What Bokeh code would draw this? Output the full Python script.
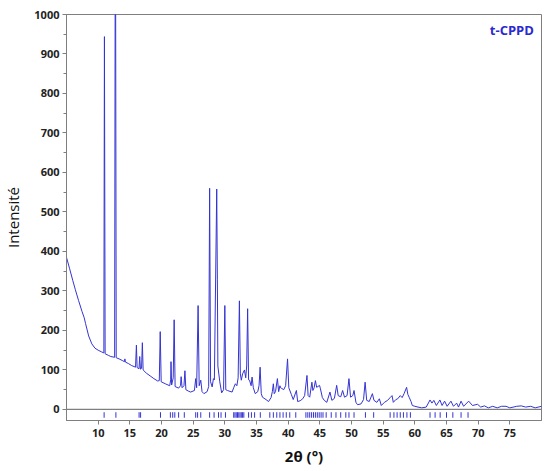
from bokeh.plotting import figure
from bokeh.models import Range1d, FixedTicker, Span, Label
from bokeh.embed import file_html
from bokeh.resources import INLINE

# Observed XRD profile vertices (2theta in degrees, intensity in counts)
two_theta = [
    5.0, 5.5, 6.0, 6.4, 6.9, 7.45, 7.8, 8.0, 8.5, 9.0, 9.5, 10.0, 10.5, 10.9,
    10.99, 11.1, 11.6, 12.0, 12.6, 12.72, 12.85, 13.3, 13.8, 14.15, 14.22, 14.3,
    14.8, 15.3, 15.9, 16.04, 16.15, 16.45, 16.56, 16.68, 16.85, 16.98, 17.1,
    17.6, 18.2, 18.8, 19.4, 19.65, 19.8, 19.95, 20.6, 21.3, 21.45, 21.5, 21.6,
    21.85, 22.0, 22.15, 22.7, 23.0, 23.1, 23.25, 23.55, 23.7, 23.85, 24.3,
    24.6, 25.2, 25.4, 25.55, 25.78, 25.95, 26.2, 26.4, 26.7, 27.2, 27.45, 27.6,
    27.75, 28.0, 28.2, 28.35, 28.72, 28.82, 28.9, 29.2, 29.5, 29.8, 30.0, 30.15,
    30.4, 31.15, 31.4, 31.66, 31.9, 32.1, 32.3, 32.45, 32.6, 32.8, 33.1, 33.3,
    33.45, 33.6, 33.75, 33.9, 34.15, 34.3, 34.5, 34.8, 35.2, 35.4, 35.57, 35.75,
    35.94, 36.5, 36.9, 37.3, 37.5, 37.66, 37.8, 38.0, 38.3, 38.5, 38.7, 38.8,
    39.0, 39.3, 39.6, 39.9, 40.1, 40.5, 40.8, 41.3, 41.5, 41.9, 42.3, 42.6,
    42.97, 43.15, 43.4, 43.75, 43.9, 44.1, 44.3, 44.5, 44.7, 44.95, 45.1, 45.4,
    45.7, 46.1, 46.6, 46.9, 47.3, 47.66, 47.9, 48.3, 48.6, 48.9, 49.3, 49.6,
    49.85, 50.2, 50.4, 50.7, 50.95, 51.5, 51.9, 52.15, 52.4, 52.8, 53.3, 53.55,
    54.0, 54.4, 54.7, 55.2, 55.7, 56.1, 56.4, 56.6, 57.0, 57.3, 57.7, 58.0,
    58.3, 58.7, 58.9, 59.1, 59.4, 59.6, 60.0, 60.5, 61.1, 61.8, 62.4, 62.7,
    63.0, 63.4, 63.96, 64.3, 64.7, 65.1, 65.7, 66.1, 66.6, 66.9, 67.3, 67.7,
    68.5, 69.1, 69.9, 70.4, 71.0, 71.6, 72.3, 73.0, 73.7, 74.4, 75.0, 76.1,
    76.8, 77.5, 78.3, 79.0, 80.0,
]
intensity = [
    385, 356, 326, 303, 276, 248, 232, 218, 186, 166, 155, 150, 146, 143,
    944, 141, 137, 134, 132, 1450, 131, 128, 124, 121, 128, 120,
    116, 111, 107, 163, 106, 103, 134, 102, 104, 169, 100,
    92, 85, 78, 72, 73, 197, 70, 65, 60, 75, 121, 62,
    80, 227, 58, 54, 60, 83, 55, 60, 98, 50, 46,
    44, 48, 78, 55, 263, 60, 74, 45, 40, 45, 58, 560,
    70, 57, 78, 75, 558, 330, 110, 70, 42, 50, 263, 50,
    48, 44, 55, 65, 60, 80, 275, 90, 74, 90, 100, 80,
    110, 255, 75, 74, 60, 82, 55, 40, 45, 60, 107, 40,
    31, 25, 20, 30, 45, 65, 40, 45, 78, 45, 60, 55,
    53, 50, 60, 128, 55, 38, 25, 48, 20, 22, 27, 35,
    86, 35, 31, 69, 48, 55, 73, 56, 58, 61, 52, 30,
    23, 18, 44, 23, 28, 61, 35, 32, 48, 31, 35, 78,
    31, 35, 48, 18, 12, 14, 25, 69, 23, 20, 40, 23,
    18, 27, 10, 18, 23, 30, 35, 18, 25, 27, 35, 30,
    40, 56, 38, 31, 20, 10, 8, 6, 4, 6, 24, 16,
    23, 10, 24, 10, 21, 8, 21, 8, 16, 6, 21, 8,
    21, 10, 13, 6, 9, 4, 8, 4, 8, 8, 4, 8,
    9, 6, 8, 4, 8,
]

# Bragg reflection positions (2theta)
bragg_positions = [
    10.94, 12.8, 16.46, 16.7, 19.84, 21.4, 21.77, 22.1, 22.7, 23.6, 25.4, 25.7,
    26.2, 27.6, 28.3, 29.0, 29.4, 30.1, 31.4, 31.6, 31.8, 32.0, 32.2, 32.4,
    32.6, 32.8, 33.0, 33.75, 34.2, 34.7, 35.6, 37.1, 37.66, 38.2, 38.7, 39.2,
    39.7, 40.25, 41.2, 42.8, 43.1, 43.4, 43.7, 44.0, 44.3, 44.6, 44.9, 45.2,
    45.5, 46.0, 46.8, 47.55, 48.3, 49.1, 49.6, 50.4, 52.2, 53.5, 56.1, 56.7,
    57.2, 57.7, 58.2, 58.75, 59.3, 62.4, 63.2, 64.0, 65.0, 66.0, 67.3, 68.4,
]

x_ticks = [10, 15, 20, 25, 30, 35, 40, 45, 50, 55, 60, 65, 70, 75]
y_ticks = [0, 100, 200, 300, 400, 500, 600, 700, 800, 900, 1000]
y_minor = [50, 150, 250, 350, 450, 550, 650, 750, 850, 950]

line_color = "#3434d2"
axis_gray = "#7f7f7f"
font = "Open Sans"

p = figure(width=552, height=471, output_backend="svg", toolbar_location=None,
           x_range=Range1d(5, 80), y_range=Range1d(-28, 1000),
           min_border_left=61, min_border_right=11, min_border_top=14,
           min_border_bottom=51)
p.background_fill_color = "white"
p.border_fill_color = "white"
p.outline_line_color = axis_gray
p.outline_line_width = 1
p.xgrid.visible = False
p.ygrid.visible = False

p.line(two_theta, intensity, line_color=line_color, line_width=1)
p.segment(x0=bragg_positions, y0=[-7] * len(bragg_positions),
          x1=bragg_positions, y1=[-21] * len(bragg_positions),
          line_color=line_color, line_width=1)

p.add_layout(Span(location=0, dimension="width", line_color=axis_gray, line_width=1.3))

p.add_layout(Label(x=78.8, y=960, text="t-CPPD", text_align="right",
                   text_baseline="middle", text_font=font, text_font_style="bold",
                   text_font_size="13px", text_color="#2a2ad0"))

xa = p.xaxis[0]
xa.ticker = FixedTicker(ticks=x_ticks)
xa.axis_label = "2θ (°)"
xa.axis_label_text_font = font
xa.axis_label_text_font_style = "bold"
xa.axis_label_text_font_size = "15px"
xa.axis_label_text_color = "#111111"
xa.axis_label_standoff = 6
xa.major_label_text_font = font
xa.major_label_text_font_style = "bold"
xa.major_label_text_font_size = "11px"
xa.major_label_text_color = "#222222"
xa.major_label_standoff = 4
xa.axis_line_color = axis_gray
xa.major_tick_line_color = axis_gray
xa.major_tick_out = 4
xa.major_tick_in = 0
xa.minor_tick_line_color = None

ya = p.yaxis[0]
ya.ticker = FixedTicker(ticks=y_ticks, minor_ticks=y_minor)
ya.axis_label = "Intensité"
ya.axis_label_text_font = font
ya.axis_label_text_font_style = "normal"
ya.axis_label_text_font_size = "15px"
ya.axis_label_text_color = "#111111"
ya.axis_label_standoff = 8
ya.major_label_text_font = font
ya.major_label_text_font_style = "bold"
ya.major_label_text_font_size = "11px"
ya.major_label_text_color = "#222222"
ya.major_label_standoff = 3
ya.axis_line_color = axis_gray
ya.major_tick_line_color = axis_gray
ya.minor_tick_line_color = axis_gray
ya.major_tick_out = 4
ya.major_tick_in = 0
ya.minor_tick_out = 3
ya.minor_tick_in = 0

open("out.html", "w").write(file_html(p, INLINE))
